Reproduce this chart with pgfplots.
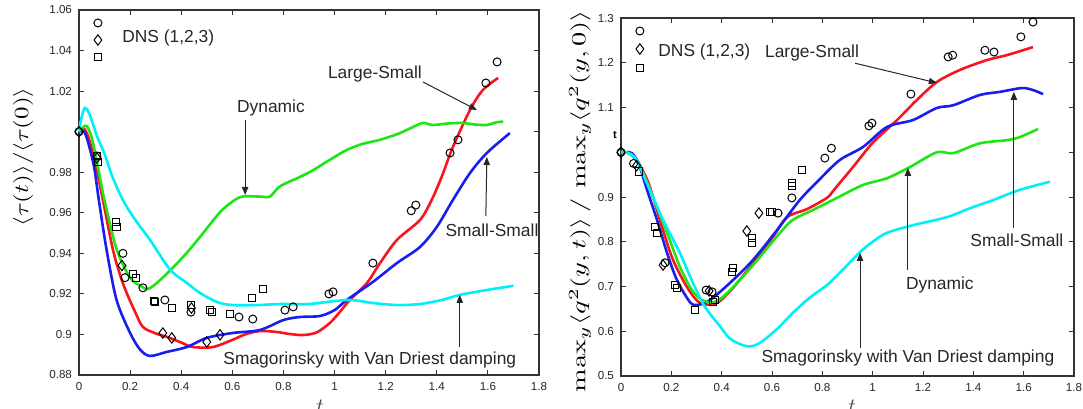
\documentclass[border=0pt]{standalone}
\usepackage[no-math]{fontspec}
\setmainfont{Liberation Sans}
\usepackage{graphicx}
\usepackage{pgfplots}
\pgfplotsset{compat=1.18}
\usetikzlibrary{arrows.meta}
\definecolor{cgreen}{RGB}{30,230,20}
\definecolor{ccyan}{RGB}{0,240,250}
\definecolor{cred}{RGB}{250,20,30}
\definecolor{cblue}{RGB}{25,30,240}
\pgfplotsset{
 myaxis/.style={scale only axis, anchor=south west, xmin=0, xmax=1.8, clip=false,
  axis line style={line width=0.6pt, black!80},
  tick style={line width=0.5pt, black!80}, major tick length=2.5pt, tick align=inside,
  xtick pos=both, ytick pos=both, xticklabel pos=lower, yticklabel pos=left,
  ticklabel style={font=\fontsize{5.8}{7}\selectfont, text=black!85},
  /pgf/number format/assume math mode=true,
  xtick={0,0.2,0.4,0.6,0.8,1,1.2,1.4,1.6,1.8},
  xticklabels={0,0.2,0.4,0.6,0.8,1,1.2,1.4,1.6,1.8},
 },
 curve/.style={line width=1.3pt, smooth, tension=0.5, no marks},
 dns/.style={only marks, black, mark size=2pt, mark options={line width=0.5pt, solid, fill=none}},
}
\tikzset{
 ann/.style={font=\fontsize{8.7}{10}\selectfont, text=black!85, inner sep=0pt},
 arr/.style={line width=0.5pt, black!85, -{Triangle[length=4pt,width=3.2pt]}},
}
\begin{document}
\begin{tikzpicture}
% ---------------- left panel ----------------
\begin{axis}[myaxis, at={(39.5pt,16.5pt)}, width=230pt, height=182.5pt,
  ymin=0.88, ymax=1.06,
  ytick={0.88,0.9,0.92,0.94,0.96,0.98,1,1.02,1.04,1.06},
  yticklabels={0.88,0.9,0.92,0.94,0.96,0.98,{},1.02,1.04,1.06}]
% Large-Small
\addplot[curve, cred] coordinates {(0,1.0) (0.02,1.0015) (0.04,0.996) (0.067,0.9826) (0.094,0.966) (0.133,0.9417) (0.163,0.9285) (0.187,0.9203) (0.22,0.911) (0.25,0.9037) (0.3,0.9005) (0.344,0.8988) (0.4,0.896) (0.446,0.8938) (0.524,0.8938) (0.6,0.8973) (0.65,0.900) (0.708,0.9017) (0.775,0.9012) (0.82,0.9003) (0.876,0.8997) (0.93,0.901) (0.982,0.9057) (1.02,0.911) (1.06,0.917) (1.127,0.9254) (1.178,0.9352) (1.244,0.9466) (1.334,0.9564) (1.38,0.9663) (1.42,0.978) (1.463,0.9924) (1.53,1.0107) (1.58,1.0205) (1.64,1.0265)};
% Small-Small
\addplot[curve, cblue] coordinates {(0,1.0) (0.02,1.0) (0.035,0.995) (0.059,0.9826) (0.078,0.966) (0.108,0.9417) (0.147,0.917) (0.2,0.9007) (0.24,0.8924) (0.278,0.8894) (0.344,0.8914) (0.422,0.8938) (0.5,0.8983) (0.6,0.9007) (0.708,0.9022) (0.8,0.9071) (0.865,0.9086) (0.943,0.9091) (1.0,0.912) (1.048,0.917) (1.15,0.9259) (1.244,0.9352) (1.334,0.9431) (1.40,0.953) (1.463,0.9663) (1.53,0.9796) (1.596,0.9895) (1.686,0.9993)};
% Dynamic
\addplot[curve, cgreen] coordinates {(0,1.0) (0.015,1.002) (0.03,1.0028) (0.05,0.997) (0.074,0.9826) (0.1,0.966) (0.148,0.9417) (0.2,0.928) (0.24,0.924) (0.27,0.9224) (0.31,0.926) (0.368,0.933) (0.42,0.940) (0.473,0.948) (0.55,0.96) (0.60,0.9655) (0.64,0.968) (0.708,0.968) (0.747,0.968) (0.786,0.973) (0.865,0.9777) (0.916,0.981) (0.98,0.986) (1.048,0.991) (1.11,0.994) (1.178,0.996) (1.25,0.999) (1.307,1.0023) (1.346,1.0043) (1.385,1.0033) (1.44,1.004) (1.50,1.0043) (1.55,1.0035) (1.596,1.0033) (1.63,1.0045) (1.66,1.005)};
% Smagorinsky
\addplot[curve, ccyan] coordinates {(0,1.0) (0.01,1.007) (0.023,1.0117) (0.04,1.009) (0.07,0.998) (0.1,0.989) (0.13,0.978) (0.173,0.966) (0.22,0.9565) (0.278,0.9466) (0.356,0.932) (0.422,0.9254) (0.473,0.9205) (0.54,0.916) (0.6,0.9145) (0.7,0.9145) (0.786,0.915) (0.9,0.915) (1.05,0.917) (1.15,0.9155) (1.244,0.9145) (1.334,0.915) (1.42,0.917) (1.49,0.9195) (1.6,0.922) (1.70,0.924)};
% DNS markers
\addplot[dns, mark=o] coordinates {(0,1.0) (0.07,0.988) (0.172,0.94) (0.18,0.928) (0.25,0.923) (0.336,0.917) (0.438,0.911) (0.626,0.9086) (0.68,0.9076) (0.806,0.912) (0.838,0.9136) (0.978,0.92) (0.994,0.921) (1.15,0.9352) (1.30,0.961) (1.318,0.9638) (1.452,0.9895) (1.483,0.996) (1.592,1.024) (1.636,1.0344)};
\addplot[dns, mark=diamond, mark size=2.6pt] coordinates {(0,1.0) (0.07,0.987) (0.168,0.934) (0.328,0.9007) (0.363,0.8983) (0.44,0.913) (0.50,0.8963) (0.552,0.8998)};
\addplot[dns, mark=square, mark size=1.8pt] coordinates {(0.07,0.988) (0.074,0.985) (0.145,0.9555) (0.147,0.953) (0.212,0.9298) (0.222,0.928) (0.293,0.9165) (0.296,0.916) (0.364,0.913) (0.438,0.9145) (0.513,0.912) (0.52,0.911) (0.59,0.910) (0.677,0.918) (0.72,0.9225)};
% legend symbols
\addplot[dns, mark=o] coordinates {(0.074,1.0536)};
\addplot[dns, mark=diamond, mark size=2.6pt] coordinates {(0.074,1.0452)};
\addplot[dns, mark=square, mark size=1.8pt] coordinates {(0.074,1.0368)};
\node[ann, anchor=west] at (axis cs:0.168,1.0462) {DNS (1,2,3)};
% annotations
\node[ann] at (axis cs:0.751,1.0117) {Dynamic};
\draw[arr] (axis cs:0.65,1.0058) -- (axis cs:0.65,0.9688);
\node[ann] at (axis cs:1.158,1.0284) {Large-Small};
\draw[arr] (axis cs:1.346,1.0245) -- (axis cs:1.557,1.0107);
\node[ann] at (axis cs:1.616,0.9515) {Small-Small};
\draw[arr] (axis cs:1.592,0.9584) -- (axis cs:1.596,0.9875);
\node[ann] at (axis cs:1.138,0.8874) {Smagorinsky with Van Driest damping};
\draw[arr] (axis cs:1.49,0.8938) -- (axis cs:1.49,0.9195);
\end{axis}
% ---------------- right panel ----------------
\begin{axis}[myaxis, at={(310.5pt,16pt)}, width=226.5pt, height=179pt,
  ymin=0.5, ymax=1.3,
  ytick={0.5,0.6,0.7,0.8,0.9,1,1.1,1.2,1.3},
  yticklabels={0.5,0.6,0.7,0.8,0.9,{},1.1,1.2,1.3}]
\addplot[curve, cred] coordinates {(0,1.0) (0.03,0.998) (0.06,0.985) (0.09,0.955) (0.115,0.922) (0.167,0.826) (0.207,0.759) (0.262,0.699) (0.314,0.663) (0.38,0.663) (0.445,0.697) (0.524,0.752) (0.604,0.811) (0.66,0.855) (0.739,0.873) (0.818,0.898) (0.845,0.915) (0.87,0.932) (0.922,0.967) (1.0,1.021) (1.097,1.072) (1.176,1.117) (1.255,1.157) (1.347,1.184) (1.454,1.206) (1.533,1.217) (1.637,1.235)};
\addplot[curve, cblue] coordinates {(0,1.0) (0.02,1.0) (0.044,0.998) (0.07,0.975) (0.1,0.922) (0.143,0.849) (0.183,0.775) (0.222,0.715) (0.274,0.665) (0.306,0.659) (0.354,0.670) (0.433,0.708) (0.524,0.759) (0.62,0.826) (0.71,0.893) (0.79,0.940) (0.87,0.983) (0.962,1.012) (1.057,1.0565) (1.16,1.072) (1.255,1.099) (1.32,1.105) (1.426,1.128) (1.506,1.135) (1.593,1.1435) (1.637,1.139) (1.677,1.130)};
\addplot[curve, cgreen] coordinates {(0,1.0) (0.03,0.998) (0.07,0.975) (0.127,0.9) (0.183,0.82) (0.234,0.744) (0.282,0.692) (0.322,0.670) (0.366,0.665) (0.405,0.677) (0.473,0.715) (0.552,0.766) (0.632,0.82) (0.683,0.849) (0.763,0.871) (0.858,0.898) (0.962,0.927) (1.057,0.942) (1.148,0.967) (1.255,1.0) (1.32,0.998) (1.426,1.02) (1.533,1.027) (1.585,1.034) (1.657,1.052)};
\addplot[curve, ccyan] coordinates {(0,1.0) (0.03,0.998) (0.06,0.985) (0.103,0.931) (0.167,0.849) (0.234,0.775) (0.286,0.708) (0.333,0.655) (0.395,0.61) (0.43,0.585) (0.47,0.572) (0.51,0.566) (0.552,0.574) (0.62,0.605) (0.683,0.641) (0.75,0.675) (0.818,0.703) (0.87,0.731) (0.95,0.777) (1.0,0.80) (1.057,0.82) (1.16,0.837) (1.295,0.855) (1.387,0.875) (1.478,0.893) (1.585,0.916) (1.704,0.934)};
\addplot[dns, mark=o] coordinates {(0,1.0) (0.05,0.975) (0.175,0.753) (0.338,0.692) (0.362,0.688) (0.624,0.864) (0.679,0.898) (0.81,0.987) (0.836,1.009) (0.985,1.059) (0.997,1.065) (1.152,1.13) (1.30,1.213) (1.318,1.217) (1.446,1.228) (1.482,1.224) (1.589,1.258) (1.637,1.291)};
\addplot[dns, mark=diamond, mark size=2.6pt] coordinates {(0,1.0) (0.062,0.97) (0.167,0.748) (0.35,0.69) (0.50,0.824) (0.548,0.864)};
\addplot[dns, mark=square, mark size=1.8pt] coordinates {(0.07,0.957) (0.135,0.833) (0.143,0.819) (0.214,0.703) (0.222,0.697) (0.294,0.648) (0.366,0.665) (0.373,0.67) (0.441,0.732) (0.445,0.741) (0.52,0.808) (0.52,0.797) (0.592,0.866) (0.60,0.866) (0.679,0.931) (0.679,0.925) (0.72,0.96)};
\addplot[dns, mark=o] coordinates {(0.075,1.271)};
\addplot[dns, mark=diamond, mark size=2.6pt] coordinates {(0.075,1.2307)};
\addplot[dns, mark=square, mark size=1.8pt] coordinates {(0.075,1.1883)};
\node[ann, anchor=west] at (axis cs:0.147,1.224) {DNS (1,2,3)};
\node[ann] at (axis cs:0.759,1.222) {Large-Small};
\draw[arr] (axis cs:0.93,1.199) -- (axis cs:1.255,1.155);
\node[ann] at (axis cs:1.573,0.804) {Small-Small};
\draw[arr] (axis cs:1.561,0.831) -- (axis cs:1.561,1.135);
\node[ann] at (axis cs:1.267,0.703) {Dynamic};
\draw[arr] (axis cs:1.14,0.737) -- (axis cs:1.14,0.965);
\node[ann] at (axis cs:1.14,0.540) {Smagorinsky with Van Driest damping};
\draw[arr] (axis cs:0.95,0.563) -- (axis cs:0.95,0.775);
\end{axis}
% axis labels
\node[rotate=90] at (11.5pt,125.5pt) {\resizebox*{69.5pt}{10pt}{$\langle\tau(t)\rangle/\langle\tau(0)\rangle$}};
\node[rotate=90] at (290pt,103.5pt) {\resizebox*{191pt}{11pt}{$\max_y\langle q^2(y,t)\rangle\,/\,\max_y\langle q^2(y,0)\rangle$}};
\node[anchor=base, font=\fontsize{11}{13}\selectfont, text=black!70] at (160pt,-2.75pt) {$t$};
\node[anchor=base, font=\fontsize{11}{13}\selectfont, text=black!70] at (426pt,-2.75pt) {$t$};
\node[font=\fontsize{5.5}{6}\bfseries\selectfont] at (307.5pt,136.5pt) {t};
\pgfresetboundingbox
\useasboundingbox (0,0) rectangle (541.5pt,204pt);
\end{tikzpicture}
\end{document}
